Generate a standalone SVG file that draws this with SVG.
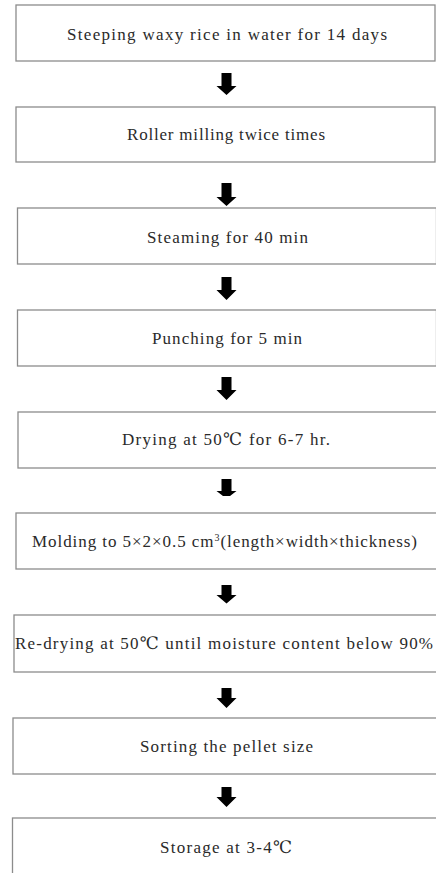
<svg xmlns="http://www.w3.org/2000/svg" width="436" height="873" viewBox="0 0 436 873">
<style>
.box{fill:#fff;stroke:#8c8c8c;stroke-width:1.3}
.t{font-size:17px;fill:#2a2a2a}
.arr{fill:#000}
</style>
<rect width="436" height="873" fill="#fff"/>
<g font-family="'Liberation Serif', 'Times New Roman', 'DejaVu Serif', 'Noto Sans CJK KR', serif">
<g id="n1"><rect class="box" x="16" y="5" width="419" height="56"/><text class="t" x="67" y="39.5" textLength="320" lengthAdjust="spacing">Steeping waxy rice in water for 14 days</text></g>
<g id="n2"><rect class="box" x="16" y="107" width="419" height="55"/><text class="t" x="127" y="140" textLength="198" lengthAdjust="spacing">Roller milling twice times</text></g>
<g id="n3"><rect class="box" x="17.5" y="208" width="419" height="56"/><text class="t" x="147" y="243" textLength="161" lengthAdjust="spacing">Steaming for 40 min</text></g>
<g id="n4"><rect class="box" x="17.5" y="310" width="419" height="56"/><text class="t" x="152" y="343.5" textLength="150" lengthAdjust="spacing">Punching for 5 min</text></g>
<g id="n5"><rect class="box" x="18" y="412" width="419" height="56"/><text class="t" x="122" y="445" textLength="208" lengthAdjust="spacing">Drying at 50℃ for 6-7 hr.</text></g>
<g id="n6"><rect class="box" x="16" y="513" width="421" height="56"/><text class="t" x="32" y="546.5" textLength="385" lengthAdjust="spacing">Molding to 5×2×0.5 cm<tspan font-size="10" dy="-6">3</tspan><tspan dy="6">(length×width×thickness)</tspan></text></g>
<g id="n7"><rect class="box" x="14" y="615" width="423" height="57"/><text class="t" x="15" y="648.5" textLength="418" lengthAdjust="spacing">Re-drying at 50℃ until moisture content below 90%</text></g>
<g id="n8"><rect class="box" x="13" y="718" width="424" height="56"/><text class="t" x="140" y="751.5" textLength="173" lengthAdjust="spacing">Sorting the pellet size</text></g>
<g id="n9"><rect class="box" x="12.5" y="818" width="425" height="60"/><text class="t" x="160" y="853" textLength="132" lengthAdjust="spacing">Storage at 3-4℃</text></g>
</g>
<g id="connectors">
<polygon class="arr" points="221.5,73 231.5,73 231.5,86 236.5,86 226.5,95 216.5,86 221.5,86"/>
<polygon class="arr" points="221.5,183 231.5,183 231.5,197 236.5,197 226.5,206 216.5,197 221.5,197"/>
<polygon class="arr" points="221.5,277 231.5,277 231.5,290 236.5,290 226.5,300 216.5,290 221.5,290"/>
<polygon class="arr" points="221.5,377 231.5,377 231.5,390 236.5,390 226.5,400 216.5,390 221.5,390"/>
<polygon class="arr" points="221.5,479 231.5,479 231.5,491 236.5,491 230,496 223,496 216.5,491 221.5,491"/>
<polygon class="arr" points="221.5,585 231.5,585 231.5,595 236.5,595 226.5,603.5 216.5,595 221.5,595"/>
<polygon class="arr" points="221.5,688 231.5,688 231.5,698 236.5,698 226.5,708 216.5,698 221.5,698"/>
<polygon class="arr" points="221.5,787 231.5,787 231.5,797 236.5,797 226.5,807 216.5,797 221.5,797"/>
</g>
</svg>
